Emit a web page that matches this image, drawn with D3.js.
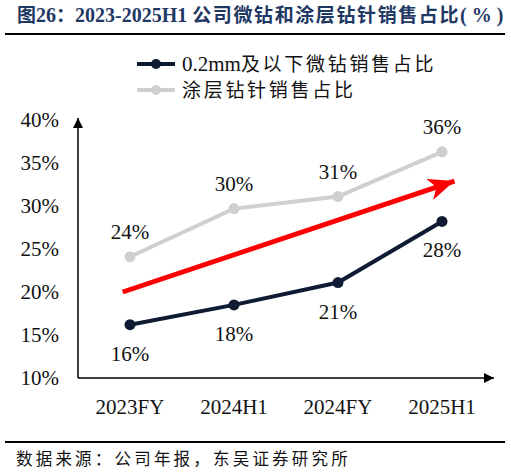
<!DOCTYPE html>
<html>
<head>
<meta charset="utf-8">
<script src="https://cdn.jsdelivr.net/npm/d3@7"></script>
<style>
  body { margin: 0; background: #fff; }
  svg { display: block; }
</style>
</head>
<body>
<svg id="chart" width="511" height="476"></svg>
<script>
// Data
const categories = ["2023FY", "2024H1", "2024FY", "2025H1"];
const microDrill = [16.2, 18.5, 21.1, 28.2];      // 0.2mm及以下微钻销售占比
const microLabels = ["16%", "18%", "21%", "28%"];
const coated = [24.1, 29.7, 31.1, 36.3];          // 涂层钻针销售占比
const coatedLabels = ["24%", "30%", "31%", "36%"];
const yTicks = [10, 15, 20, 25, 30, 35, 40];
// trend arrow, in category-index / percent units
const trendFrom = [-0.07, 20.0];
const trendTo = [3.12, 32.9];

const svg = d3.select("#chart");
const serif = "'Liberation Serif', 'Times New Roman', serif";
const cjk = "'Noto Sans CJK SC', sans-serif";
const navy = "#0e1b33";
const gray = "#cfcfcf";

const x = d3.scalePoint().domain(categories).range([78, 494]).padding(0.5);
const xi = d3.scaleLinear().domain([-0.5, 3.5]).range([78, 494]);
const y = d3.scaleLinear().domain([10, 40]).range([378, 120]);

// Title
const title = svg.append("text")
    .attr("x", 17).attr("y", 22)
    .attr("fill", "#1f3864")
    .attr("font-weight", "bold");
title.append("tspan").attr("font-family", cjk).attr("font-size", 19).text("图");
title.append("tspan").attr("font-family", serif).attr("font-size", 20).text("26");
title.append("tspan").attr("font-family", cjk).attr("font-size", 19).text("：");
title.append("tspan").attr("font-family", serif).attr("font-size", 20).text("2023-2025H1 ");
title.append("tspan").attr("font-family", cjk).attr("font-size", 19).attr("letter-spacing", 1.6)
    .text("公司微钻和涂层钻针销售占比");
title.append("tspan").attr("font-family", serif).attr("font-size", 20).text("( % )");

svg.append("line").attr("x1", 5).attr("x2", 505).attr("y1", 34).attr("y2", 34)
    .attr("stroke", "#000").attr("stroke-width", 2);

// Legend
const legend = [
    { name: "0.2mm", rest: "及以下微钻销售占比", color: navy },
    { name: "", rest: "涂层钻针销售占比", color: gray }
];
legend.forEach((d, i) => {
    const ly = 64 + i * 26;
    svg.append("line").attr("x1", 137).attr("x2", 175).attr("y1", ly).attr("y2", ly)
        .attr("stroke", d.color).attr("stroke-width", 4);
    svg.append("circle").attr("cx", 156).attr("cy", ly).attr("r", 5).attr("fill", d.color);
    const t = svg.append("text").attr("x", 182).attr("y", ly + 7).attr("fill", "#111");
    if (d.name) t.append("tspan").attr("font-family", serif).attr("font-size", 21).text(d.name);
    t.append("tspan").attr("font-family", cjk).attr("font-size", 19).attr("letter-spacing", 2.7).text(d.rest);
});

// Arrow markers
const defs = svg.append("defs");
defs.append("marker").attr("id", "axisArrow")
    .attr("viewBox", "0 0 10 10").attr("refX", 10).attr("refY", 5)
    .attr("markerWidth", 10).attr("markerHeight", 10).attr("markerUnits", "userSpaceOnUse")
    .attr("orient", "auto")
    .append("path").attr("d", "M0,0 L10,5 L0,10 Z").attr("fill", "#000");
defs.append("marker").attr("id", "trendArrow")
    .attr("viewBox", "0 0 26 22").attr("refX", 26).attr("refY", 11)
    .attr("markerWidth", 26).attr("markerHeight", 22).attr("markerUnits", "userSpaceOnUse")
    .attr("orient", "auto")
    .append("path").attr("d", "M0,0 L26,11 L0,22 L7,11 Z").attr("fill", "#ff0000");

// Axes
svg.append("line").attr("x1", 78).attr("x2", 78).attr("y1", y(10)).attr("y2", y(40) - 2)
    .attr("stroke", "#000").attr("stroke-width", 1.5).attr("marker-end", "url(#axisArrow)");
svg.append("line").attr("x1", 78).attr("x2", 494).attr("y1", y(10)).attr("y2", y(10))
    .attr("stroke", "#000").attr("stroke-width", 1.5).attr("marker-end", "url(#axisArrow)");

svg.append("g").selectAll("text").data(yTicks).join("text")
    .attr("x", 59).attr("y", d => y(d) + 7)
    .attr("text-anchor", "end")
    .attr("font-family", serif).attr("font-size", 21).attr("fill", "#111")
    .text(d => d + "%");

svg.append("g").selectAll("text").data(categories).join("text")
    .attr("x", d => x(d)).attr("y", 414)
    .attr("text-anchor", "middle")
    .attr("font-family", serif).attr("font-size", 21).attr("fill", "#111")
    .text(d => d);

// Trend arrow
svg.append("line")
    .attr("x1", xi(trendFrom[0])).attr("y1", y(trendFrom[1]))
    .attr("x2", xi(trendTo[0])).attr("y2", y(trendTo[1]))
    .attr("stroke", "#ff0000").attr("stroke-width", 5)
    .attr("marker-end", "url(#trendArrow)");

// Series
const line = d3.line().x((d, i) => x(categories[i])).y(d => y(d));
function drawSeries(values, labels, color, above) {
    svg.append("path").datum(values)
        .attr("d", line).attr("fill", "none")
        .attr("stroke", color).attr("stroke-width", 4);
    svg.append("g").selectAll("circle").data(values).join("circle")
        .attr("cx", (d, i) => x(categories[i])).attr("cy", d => y(d))
        .attr("r", 5.5).attr("fill", color);
    svg.append("g").selectAll("text").data(values).join("text")
        .attr("x", (d, i) => x(categories[i]))
        .attr("y", d => above ? y(d) - 18 : y(d) + 36)
        .attr("text-anchor", "middle")
        .attr("font-family", serif).attr("font-size", 21).attr("fill", "#111")
        .text((d, i) => labels[i]);
}
drawSeries(coated, coatedLabels, gray, true);
drawSeries(microDrill, microLabels, navy, false);

// Footer
svg.append("line").attr("x1", 5).attr("x2", 505).attr("y1", 442).attr("y2", 442)
    .attr("stroke", "#000").attr("stroke-width", 2);
svg.append("text").attr("x", 16).attr("y", 465)
    .attr("font-family", cjk).attr("font-size", 16.5).attr("letter-spacing", 3.2)
    .attr("fill", "#111")
    .text("数据来源：公司年报，东吴证券研究所");
</script>
</body>
</html>
